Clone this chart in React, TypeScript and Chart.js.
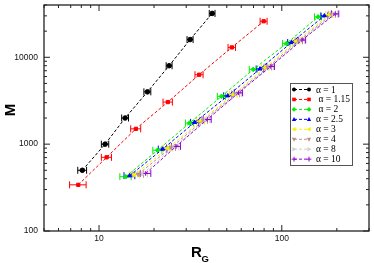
import React, { useEffect, useRef } from "react";
import { Chart, registerables } from "chart.js";

Chart.register(...registerables);

const seriesLabels = ["α = 1", " α = 1.15", " α = 2", "α = 2.5", "α = 3", "α = 4", "α = 8", "α = 10"];
const colors = ["#000000", "#ff0000", "#00ee00", "#0000ff", "#f2f200", "#bc8f8f", "#cfcfcf", "#9400d3"];
const pointStyles = ["circle", "rect", "rectRot", "triangle", "triangle", "triangle", "triangle", "cross"];
const pointRotations = [0, 0, 0, 0, -90, 180, 90, 0];

const rA1 = [8.1, 10.8, 13.9, 18.4, 24.2, 31.5, 41.6];
const mA1 = [500, 1000, 2000, 4000, 8000, 16000, 32000];
const eA1 = [0.45, 0.5, 0.6, 0.8, 0.9, 1.2, 1.5];

const rA115 = [7.7, 11.0, 15.9, 23.8, 35.3, 53.3, 79.6];
const mA115 = [340, 705, 1500, 3050, 6300, 13000, 26000];
const eA115 = [0.8, 0.7, 1.0, 1.4, 1.8, 2.5, 3.5];

const rA2 = [14.0, 20.9, 31.3, 46.8, 69.8, 106, 158];
const mA2 = [422, 850, 1750, 3550, 7250, 14400, 29200];
const eA2 = [1.0, 1.2, 1.6, 2.4, 3.4, 5, 7];

const rA25 = [14.7, 22.3, 33.4, 50.6, 76, 113, 171];
const mA25 = [433, 877, 1780, 3600, 7350, 14800, 30000];
const eA25 = [1.0, 1.2, 1.7, 2.5, 3.6, 5.3, 7.5];

const rA3 = [15.6, 23.8, 36.0, 54.3, 81.3, 120, 182];
const mA3 = [444, 900, 1845, 3740, 7640, 15300, 31000];
const eA3 = [1.0, 1.3, 1.8, 2.6, 3.8, 5.5, 8];

const rA4 = [16.4, 24.8, 37.3, 56, 84, 124, 188];
const mA4 = [450, 915, 1880, 3800, 7730, 15500, 31300];
const eA4 = [1.1, 1.4, 1.9, 2.8, 4.0, 5.8, 8.5];

const rA8 = [17.3, 25.8, 38.4, 57.2, 86, 127, 193];
const mA8 = [456, 930, 1905, 3860, 7800, 15700, 31500];
const eA8 = [1.1, 1.5, 2.0, 2.9, 4.1, 6, 9];

const rA10 = [18, 26.4, 39.1, 58, 87, 129, 196];
const mA10 = [460, 942, 1924, 3900, 7840, 15800, 31600];
const eA10 = [1.2, 1.5, 2.0, 3.0, 4.2, 6, 9];

const allR = [rA1, rA115, rA2, rA25, rA3, rA4, rA8, rA10];
const allM = [mA1, mA115, mA2, mA25, mA3, mA4, mA8, mA10];
const allE = [eA1, eA115, eA2, eA25, eA3, eA4, eA8, eA10];

const xTickLabels = [10, 100];
const yTickLabels = [100, 1000, 10000];
const xMin = 5, xMax = 300, yMin = 100, yMax = 40000;

function drawMarker(ctx: CanvasRenderingContext2D, style: string, rot: number, x: number, y: number, r: number, color: string) {
  ctx.save();
  ctx.translate(x, y);
  ctx.rotate((rot * Math.PI) / 180);
  ctx.fillStyle = color;
  ctx.strokeStyle = color;
  ctx.lineWidth = 1;
  ctx.beginPath();
  if (style === "circle") {
    ctx.arc(0, 0, r, 0, Math.PI * 2);
    ctx.fill();
  } else if (style === "rect") {
    ctx.rect(-r * 0.9, -r * 0.9, r * 1.8, r * 1.8);
    ctx.fill();
  } else if (style === "rectRot") {
    ctx.moveTo(0, -r * 1.2); ctx.lineTo(r * 1.2, 0); ctx.lineTo(0, r * 1.2); ctx.lineTo(-r * 1.2, 0);
    ctx.closePath(); ctx.fill();
  } else if (style === "triangle") {
    ctx.moveTo(0, -r * 1.2); ctx.lineTo(r * 1.1, r * 0.8); ctx.lineTo(-r * 1.1, r * 0.8);
    ctx.closePath(); ctx.fill();
  } else {
    ctx.moveTo(-r * 1.2, 0); ctx.lineTo(r * 1.2, 0); ctx.moveTo(0, -r * 1.2); ctx.lineTo(0, r * 1.2);
    ctx.stroke();
  }
  ctx.restore();
}

const framePlugin = {
  id: "framePlugin",
  beforeDatasetsDraw(chart: any) {
    const ctx = chart.ctx as CanvasRenderingContext2D;
    const xs = chart.scales.x, ys = chart.scales.y;
    ctx.save();
    chart.data.datasets.forEach((ds: any, i: number) => {
      ctx.strokeStyle = colors[i];
      ctx.lineWidth = 1;
      ds.data.forEach((p: any, j: number) => {
        const e = allE[i][j];
        const x1 = xs.getPixelForValue(p.x - e);
        const x2 = xs.getPixelForValue(p.x + e);
        const y = ys.getPixelForValue(p.y);
        ctx.beginPath();
        ctx.moveTo(x1, y); ctx.lineTo(x2, y);
        ctx.moveTo(x1, y - 3.5); ctx.lineTo(x1, y + 3.5);
        ctx.moveTo(x2, y - 3.5); ctx.lineTo(x2, y + 3.5);
        ctx.stroke();
      });
    });
    ctx.restore();
  },
  afterDraw(chart: any) {
    const ctx = chart.ctx as CanvasRenderingContext2D;
    const { left, right, top, bottom } = chart.chartArea;
    const xs = chart.scales.x, ys = chart.scales.y;
    ctx.save();
    // frame
    ctx.strokeStyle = "#222";
    ctx.lineWidth = 1.3;
    ctx.strokeRect(left, top, right - left, bottom - top);
    ctx.lineWidth = 1;
    // x ticks
    for (let d = 1; d <= 100; d *= 10) {
      for (let k = 1; k <= 9; k++) {
        const v = d * k;
        if (v < xMin || v > xMax) continue;
        const px = xs.getPixelForValue(v);
        const len = k === 1 ? 6 : 3;
        ctx.beginPath();
        ctx.moveTo(px, bottom); ctx.lineTo(px, bottom - len);
        ctx.moveTo(px, top); ctx.lineTo(px, top + len);
        ctx.stroke();
      }
    }
    // y ticks
    for (let d = 100; d <= 10000; d *= 10) {
      for (let k = 1; k <= 9; k++) {
        const v = d * k;
        if (v < yMin || v > yMax) continue;
        const py = ys.getPixelForValue(v);
        const len = k === 1 ? 6 : 3;
        ctx.beginPath();
        ctx.moveTo(left, py); ctx.lineTo(left + len, py);
        ctx.moveTo(right, py); ctx.lineTo(right - len, py);
        ctx.stroke();
      }
    }
    // tick labels
    ctx.fillStyle = "#111";
    ctx.font = "8.5px 'Liberation Sans', Arial, sans-serif";
    ctx.textAlign = "center";
    ctx.textBaseline = "top";
    xTickLabels.forEach((v) => ctx.fillText(String(v), xs.getPixelForValue(v), bottom + 3));
    ctx.textAlign = "right";
    ctx.textBaseline = "middle";
    yTickLabels.forEach((v) => ctx.fillText(String(v), left - 6, ys.getPixelForValue(v)));
    // axis titles
    ctx.fillStyle = "#000";
    ctx.font = "bold 15px 'Liberation Sans', Arial, sans-serif";
    ctx.textAlign = "left";
    ctx.textBaseline = "alphabetic";
    ctx.fillText("R", 191, 257);
    ctx.font = "bold 9.5px 'Liberation Sans', Arial, sans-serif";
    ctx.fillText("G", 201.5, 261.5);
    ctx.save();
    ctx.translate(15, 110);
    ctx.rotate(-Math.PI / 2);
    ctx.font = "bold 15px 'Liberation Sans', Arial, sans-serif";
    ctx.textAlign = "center";
    ctx.fillText("M", 0, 0);
    ctx.restore();
    // legend
    const bx = 290, by = 83, bw = 62, bh = 82;
    ctx.fillStyle = "#fff";
    ctx.fillRect(bx, by, bw, bh);
    ctx.strokeStyle = "#555";
    ctx.lineWidth = 1;
    ctx.strokeRect(bx + 0.5, by + 0.5, bw, bh);
    ctx.font = "9.5px 'Liberation Serif', 'Times New Roman', serif";
    ctx.textBaseline = "middle";
    ctx.textAlign = "left";
    seriesLabels.forEach((lab, i) => {
      const y = by + 6.5 + i * 9.95;
      ctx.strokeStyle = colors[i];
      ctx.setLineDash([3, 2]);
      ctx.beginPath();
      ctx.moveTo(294, y); ctx.lineTo(309, y);
      ctx.stroke();
      ctx.setLineDash([]);
      drawMarker(ctx, pointStyles[i], pointRotations[i], 294, y, 2, colors[i]);
      drawMarker(ctx, pointStyles[i], pointRotations[i], 309, y, 2, colors[i]);
      ctx.fillStyle = "#000";
      ctx.fillText(lab, 316, y + 0.5);
    });
    ctx.restore();
  },
};

export default function App() {
  const ref = useRef<HTMLCanvasElement | null>(null);
  useEffect(() => {
    if (!ref.current) return;
    const datasets = seriesLabels.map((lab, i) => ({
      label: lab,
      data: allR[i].map((r, j) => ({ x: r, y: allM[i][j] })),
      borderColor: colors[i],
      backgroundColor: colors[i],
      borderWidth: 1,
      borderDash: [3, 2],
      pointStyle: pointStyles[i],
      rotation: pointRotations[i],
      pointRotation: pointRotations[i],
      pointRadius: 2.3,
      pointBorderWidth: 1,
      showLine: true,
      fill: false,
      tension: 0,
      order: 7 - i,
    }));
    const chart = new Chart(ref.current, {
      type: "line",
      data: { datasets } as any,
      options: {
        animation: false,
        responsive: false,
        devicePixelRatio: 1,
        layout: { padding: { left: 44, top: 1, right: 1, bottom: 32 } },
        plugins: { legend: { display: false }, tooltip: { enabled: false } },
        scales: {
          x: { type: "logarithmic", min: xMin, max: xMax, display: false },
          y: { type: "logarithmic", min: yMin, max: yMax, display: false },
        },
      } as any,
      plugins: [framePlugin],
    });
    return () => chart.destroy();
  }, []);
  return (
    <div style={{ position: "fixed", left: 0, top: 0, width: 374, height: 263, background: "#fff" }}>
      <canvas ref={ref} width={374} height={263} style={{ width: 374, height: 263, display: "block" }} />
    </div>
  );
}
